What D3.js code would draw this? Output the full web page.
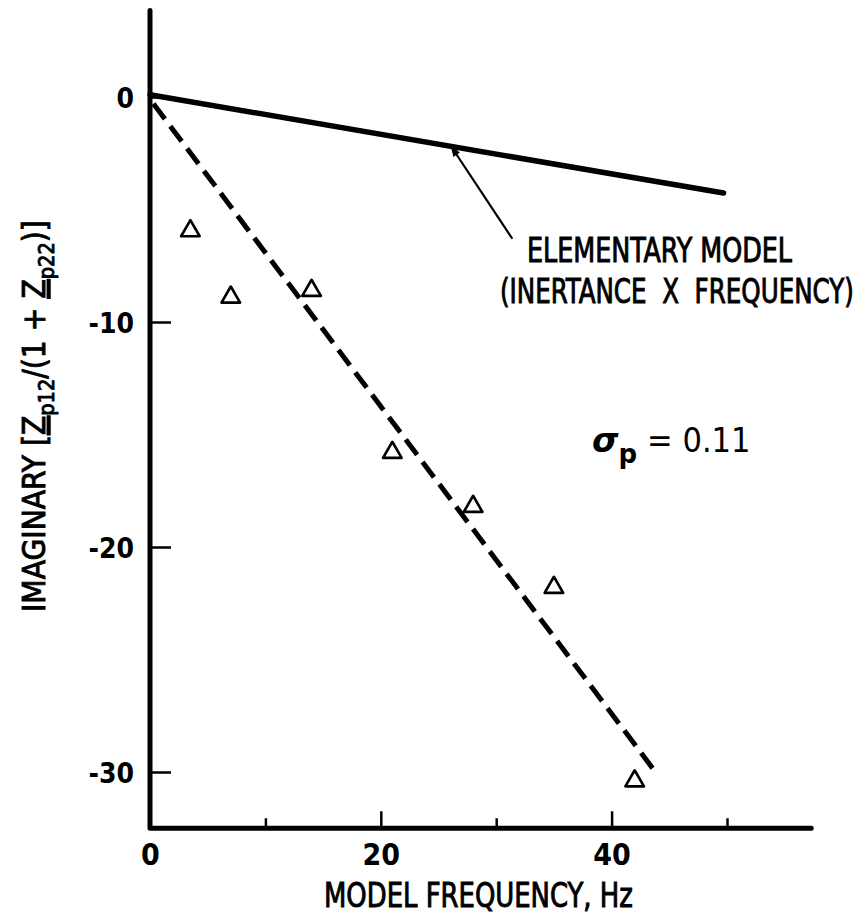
<!DOCTYPE html>
<html>
<head>
<meta charset="utf-8">
<script src="https://cdn.jsdelivr.net/npm/d3@7"></script>
<style>
body { margin: 0; background: #fff; }
text { font-family: "Liberation Sans Narrow", "DejaVu Sans Condensed", "Arial Narrow", sans-serif; fill: #000; }
text.heavy { stroke: #000; stroke-width: 0.9px; }
</style>
</head>
<body>
<div id="chart"></div>
<script>
// measured points: model frequency (Hz) vs imaginary part
const freq = [3.5, 7, 14, 21, 28, 35, 42];
const imag = [-5.95, -8.9, -8.6, -15.8, -18.2, -21.8, -30.4];
// elementary model (inertance x frequency)
const elemFreq = [0, 49.7];
const elemImag = [0.1, -4.27];
// dashed fit through the points
const fitFreq = [0.3, 43.8];
const fitImag = [-0.3, -30.0];
// ticks
const xMajor = [0, 20, 40];
const xMinor = [10, 30, 50];
const yMajor = [0, -10, -20, -30];
// text
const xTitle = 'MODEL FREQUENCY, Hz';
const noteLines = ['ELEMENTARY MODEL', '(INERTANCE  X  FREQUENCY)'];
const sigmaValue = '0.11';

const W = 867, H = 923;
const svg = d3.select('#chart').append('svg').attr('width', W).attr('height', H);
svg.append('rect').attr('width', W).attr('height', H).attr('fill', '#fff');

const x = d3.scaleLinear().domain([0, 50]).range([150, 727]);
const y = d3.scaleLinear().domain([0, -30]).range([97, 772]);
const xEnd = 57.3, yTop = 3.85, yBot = -32.5;

// squeeze a text horizontally to a given width
function fitX(t, px, py, w, rot) {
  const n = t.node().getComputedTextLength();
  t.attr('transform', 'translate(' + px + ',' + py + ')' + (rot ? ' rotate(' + rot + ')' : '') +
    ' scale(' + (w / n) + ',1)');
  return t;
}

// x axis ticks (pointing up)
const gx = svg.append('g').attr('transform', 'translate(0,' + y(yBot) + ')');
gx.call(d3.axisBottom(x).tickValues(xMajor).tickSizeInner(-17).tickSizeOuter(0).tickFormat(d => String(d)));
gx.append('g').call(d3.axisBottom(x).tickValues(xMinor).tickSizeInner(-10).tickSizeOuter(0).tickFormat(''));
gx.selectAll('.domain').remove();
gx.selectAll('line').attr('stroke', '#000').attr('stroke-width', 2.5);
gx.selectAll('text').attr('y', 37).attr('dy', null).attr('font-size', 30)
  .attr('font-family', null).attr('font-weight', 'bold');

// y axis ticks (pointing right)
const gy = svg.append('g').attr('transform', 'translate(' + x(0) + ',0)');
gy.call(d3.axisLeft(y).tickValues(yMajor).tickSizeInner(-21).tickSizeOuter(0).tickPadding(16).tickFormat(d => String(d)));
gy.selectAll('.domain').remove();
gy.selectAll('line').attr('stroke', '#000').attr('stroke-width', 2.5);
gy.selectAll('text').attr('font-size', 28).attr('dy', '0.36em')
  .attr('font-family', null).attr('font-weight', 'bold');

// axis lines
svg.append('path')
  .attr('d', 'M' + x(0) + ',' + y(yTop) + 'V' + y(yBot) + 'H' + x(xEnd))
  .attr('fill', 'none').attr('stroke', '#000').attr('stroke-width', 5)
  .attr('stroke-linecap', 'round').attr('stroke-linejoin', 'round');

const line = d3.line().x(d => x(d[0])).y(d => y(d[1]));

// elementary model line
svg.append('path').datum(d3.zip(elemFreq, elemImag)).attr('d', line)
  .attr('fill', 'none').attr('stroke', '#000').attr('stroke-width', 5.5).attr('stroke-linecap', 'round');

// dashed fit
svg.append('path').datum(d3.zip(fitFreq, fitImag)).attr('d', line)
  .attr('fill', 'none').attr('stroke', '#000').attr('stroke-width', 5)
  .attr('stroke-dasharray', '19,9');

// measured points
svg.append('g').selectAll('path').data(d3.zip(freq, imag)).enter().append('path')
  .attr('d', d3.symbol().type(d3.symbolTriangle).size(150))
  .attr('transform', d => 'translate(' + x(d[0]) + ',' + y(d[1]) + ')')
  .attr('fill', 'none').attr('stroke', '#000').attr('stroke-width', 2.6).attr('stroke-linejoin', 'round');

// arrow to the elementary model line
const arrowTail = [31.4, -6.3], arrowHead = [26.1, -2.2];
svg.append('defs').append('marker').attr('id', 'ah')
  .attr('viewBox', '0 0 10 10').attr('refX', 9).attr('refY', 5)
  .attr('markerWidth', 9).attr('markerHeight', 5).attr('markerUnits', 'strokeWidth')
  .attr('orient', 'auto')
  .append('path').attr('d', 'M0,1.5L10,5L0,8.5Z').attr('fill', '#000');
svg.append('line')
  .attr('x1', x(arrowTail[0])).attr('y1', y(arrowTail[1]))
  .attr('x2', x(arrowHead[0])).attr('y2', y(arrowHead[1]))
  .attr('stroke', '#000').attr('stroke-width', 2.2).attr('marker-end', 'url(#ah)');

// annotation
fitX(svg.append('text').attr('class', 'heavy').attr('font-size', 33).text(noteLines[0]), 527, 262, 265);
fitX(svg.append('text').attr('class', 'heavy').attr('font-size', 33).style('white-space', 'pre').text(noteLines[1]), 500, 303, 354);

// sigma label
const sg = svg.append('text').attr('x', 592).attr('y', 452).attr('font-size', 34);
sg.append('tspan').attr('font-family', 'DejaVu Sans').attr('font-style', 'italic').attr('font-weight', 'bold').text('σ');
sg.append('tspan').attr('dy', 11).attr('font-size', 26).attr('font-family', 'DejaVu Sans').attr('font-weight', 'bold').text('p');
sg.append('tspan').attr('dy', -11).attr('dx', 10).text('= ' + sigmaValue);

// x title
fitX(svg.append('text').attr('class', 'heavy').attr('font-size', 33).text(xTitle), 324, 907, 309);

// y title
const yt = svg.append('text').attr('class', 'heavy').attr('font-size', 32);
yt.append('tspan').text('IMAGINARY [');
yt.append('tspan').style('text-decoration', 'underline').text('Z');
yt.append('tspan').attr('dy', 9).attr('font-size', 22).text('p12');
yt.append('tspan').attr('dy', -9).text('/(1 + ');
yt.append('tspan').style('text-decoration', 'underline').text('Z');
yt.append('tspan').attr('dy', 9).attr('font-size', 22).text('p22');
yt.append('tspan').attr('dy', -9).text(')]');
fitX(yt, 45, 612, 392, -90);
</script>
</body>
</html>
